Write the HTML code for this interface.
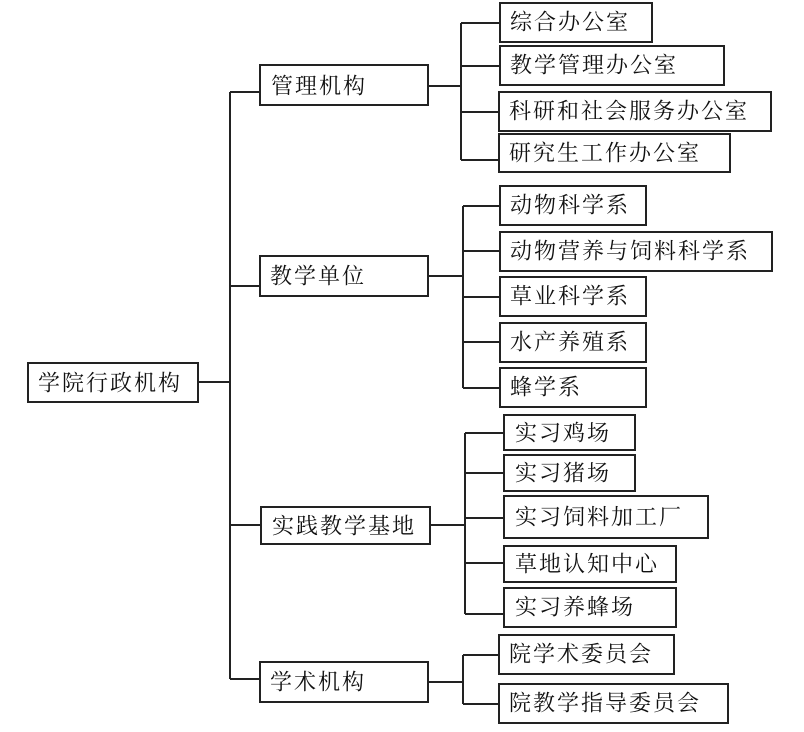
<!DOCTYPE html>
<html><head><meta charset="utf-8"><style>
html,body{margin:0;padding:0;background:#fff;}
svg text{font-family:"Liberation Serif","Noto Serif CJK SC","Noto Sans CJK SC",serif;font-size:22px;fill:#111;letter-spacing:2px;dominant-baseline:central;}
</style></head><body>
<svg width="804" height="727" viewBox="0 0 804 727" xmlns="http://www.w3.org/2000/svg">
<g fill="#fff" stroke="#222" stroke-width="2">
<rect x="28" y="363" width="170" height="39"/>
<rect x="260" y="65" width="168" height="40"/>
<rect x="260" y="256" width="168" height="40"/>
<rect x="261" y="507" width="169" height="37"/>
<rect x="260" y="662" width="168" height="40"/>
<rect x="500" y="3" width="152" height="39"/>
<rect x="500" y="46" width="224" height="39"/>
<rect x="499" y="92" width="272" height="39"/>
<rect x="499" y="134" width="231" height="38"/>
<rect x="500" y="186" width="146" height="39"/>
<rect x="500" y="232" width="272" height="39"/>
<rect x="500" y="277" width="146" height="39"/>
<rect x="500" y="323" width="146" height="39"/>
<rect x="500" y="368" width="146" height="39"/>
<rect x="504" y="415" width="131" height="35"/>
<rect x="504" y="455" width="131" height="36"/>
<rect x="504" y="496" width="204" height="42"/>
<rect x="504" y="546" width="172" height="36"/>
<rect x="504" y="588" width="172" height="39"/>
<rect x="499" y="635" width="175" height="39"/>
<rect x="499" y="684" width="229" height="39"/>
</g>
<g stroke="#222" stroke-width="2" fill="none">
<path d="M198 382H230M230 92V679M230 92H260M230 286H260M230 525H261M230 679H260"/>
<path d="M428 86H461M461 23V160M461 23H500M461 66H500M461 112H499M461 160H499"/>
<path d="M428 276H463M463 206V388M463 206H500M463 251H500M463 297H500M463 342H500M463 388H500"/>
<path d="M430 525H465M465 433V614M465 433H504M465 473H504M465 518H504M465 563H504M465 614H504"/>
<path d="M428 682H463M463 655V704M463 655H499M463 704H499"/>
</g>
<text x="38" y="383">学院行政机构</text>
<text x="271" y="86">管理机构</text>
<text x="270" y="276">教学单位</text>
<text x="272" y="526">实践教学基地</text>
<text x="270" y="682">学术机构</text>
<text x="510" y="22">综合办公室</text>
<text x="510" y="65">教学管理办公室</text>
<text x="509" y="111">科研和社会服务办公室</text>
<text x="509" y="153">研究生工作办公室</text>
<text x="510" y="205">动物科学系</text>
<text x="510" y="251">动物营养与饲料科学系</text>
<text x="510" y="296">草业科学系</text>
<text x="510" y="342">水产养殖系</text>
<text x="510" y="387">蜂学系</text>
<text x="515" y="433">实习鸡场</text>
<text x="515" y="473">实习猪场</text>
<text x="515" y="517">实习饲料加工厂</text>
<text x="515" y="564">草地认知中心</text>
<text x="515" y="607">实习养蜂场</text>
<text x="509" y="654">院学术委员会</text>
<text x="509" y="703">院教学指导委员会</text>
</svg>
</body></html>
